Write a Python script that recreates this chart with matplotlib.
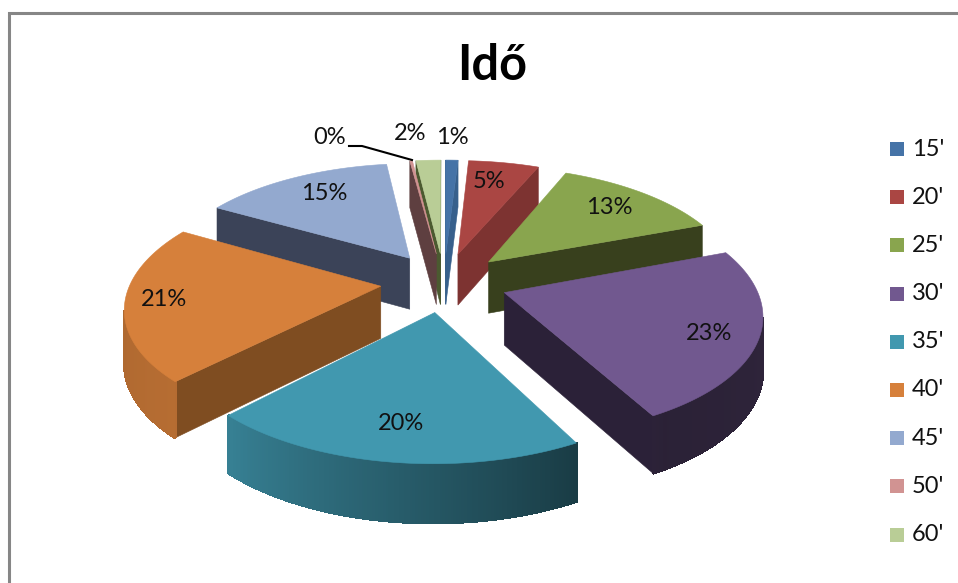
import numpy as np
from matplotlib import pyplot as plt
from matplotlib.patches import Polygon, Rectangle
from matplotlib.colors import to_rgb

title = "Idő"
categories = ["15'", "20'", "25'", "30'", "35'", "40'", "45'", "50'", "60'"]
values = [0.95, 5.4, 12.9, 22.9, 20.0, 21.0, 14.6, 0.2, 1.9]

colors = ['#4573a7', '#aa4643', '#89a54e', '#71588f', '#4198af', '#d6803b', '#93a9cf', '#d19392', '#b9cd96']
wall_colors = ['#37608c', '#7d3331', '#38401d', '#2b2138', '#1a3a48', '#7f4d21', '#3b4358', '#5e3f40', '#4b5a30']

# pixel position of each percent label
label_xy = [(452, 138), (489, 181), (609, 208), (709, 333), (401, 424), (164, 300), (324, 193), (330, 138), (410, 133)]

# view of the tilted pie
CX, CY = 444, 282
RX, RY = 250, 116.5
PERSP = 0.158
DEPTH = 52
EXPLODE = 0.254

# rim shading against clockwise angle from the top
rim_angles = [0, 90, 150, 225, 280, 360]
rim_shades = [0.7, 0.42, 0.38, 0.85, 0.8, 0.7]


def project(x, y, z=0.0):
    s = 1 / (1 + PERSP * y)
    return CX + RX * x * s, CY - RY * y * s + DEPTH * z * s ** 0.6


def signed_area(pts):
    pts = np.array(pts)
    x, y = pts[:, 0], pts[:, 1]
    return 0.5 * np.sum(x * np.roll(y, -1) - np.roll(x, -1) * y)


def shade(color, f):
    return tuple(c * f for c in to_rgb(color))


def draw_slice(ax, start, end, color, wall_color):
    mid = np.radians((start + end) / 2)
    ox, oy = EXPLODE * np.sin(mid), EXPLODE * np.cos(mid)
    angles = np.linspace(start, end, max(int(end - start) * 2, 2) + 1)
    rad = np.radians(angles)
    xs, ys = ox + np.sin(rad), oy + np.cos(rad)

    top = [project(ox, oy)] + [project(x, y) for x, y in zip(xs, ys)]
    # walls, only when they face the viewer
    walls = [
        [project(ox, oy), project(xs[0], ys[0]), project(xs[0], ys[0], 1), project(ox, oy, 1)],
        [project(xs[-1], ys[-1]), project(ox, oy), project(ox, oy, 1), project(xs[-1], ys[-1], 1)],
    ]
    for wall in walls:
        if signed_area(wall) < 0:
            ax.add_patch(Polygon(wall, closed=True, fc=wall_color, ec=wall_color, lw=0.4))
    # rim as thin strips so that it can carry the gradient
    for i in range(len(xs) - 1):
        quad = [project(xs[i], ys[i]), project(xs[i + 1], ys[i + 1]),
                project(xs[i + 1], ys[i + 1], 1), project(xs[i], ys[i], 1)]
        if signed_area(quad) < 0:
            f = np.interp((angles[i] + angles[i + 1]) / 2, rim_angles, rim_shades)
            c = shade(color, f)
            ax.add_patch(Polygon(quad, closed=True, fc=c, ec=c, lw=1.2, antialiased=False))
    ax.add_patch(Polygon(top, closed=True, fc=color, ec=color, lw=0.4))


plt.rcParams['font.family'] = ['Lato', 'DejaVu Sans']
fig = plt.figure(figsize=(9.58, 5.83), dpi=100)
ax = fig.add_axes([0, 0, 1, 1])
ax.set_xlim(0, 958)
ax.set_ylim(583, 0)
ax.axis('off')

# chart area border, only top and left are inside the crop
ax.plot([9.5, 9.5, 958], [583, 12.5, 12.5], color='#868686', lw=2.2, solid_joinstyle='miter')

ax.text(492, 66, title, fontsize=35, fontweight='bold', ha='center', va='center', color='black')

total = sum(values)
edges = np.cumsum([0] + values) / total * 360
order = sorted(range(len(values)), key=lambda k: -np.cos(np.radians((edges[k] + edges[k + 1]) / 2)))
for k in order:
    draw_slice(ax, edges[k], edges[k + 1], colors[k], wall_colors[k])

for k, (lx, ly) in enumerate(label_xy):
    ax.text(lx, ly, f"{values[k] / total * 100:.0f}%", fontsize=17, ha='center', va='center', color='#111111')

# leader line of the 0% label
ax.plot([349, 362, 412], [146, 146, 160], color='black', lw=1.5)

# legend
for k, name in enumerate(categories):
    y = 149 + k * 48.2
    ax.add_patch(Rectangle((890, y - 7), 14, 14, fc=colors[k], ec='none'))
    ax.text(912, y, name, fontsize=17, ha='left', va='center', color='#111111')

fig.savefig('out.png', dpi=100)
